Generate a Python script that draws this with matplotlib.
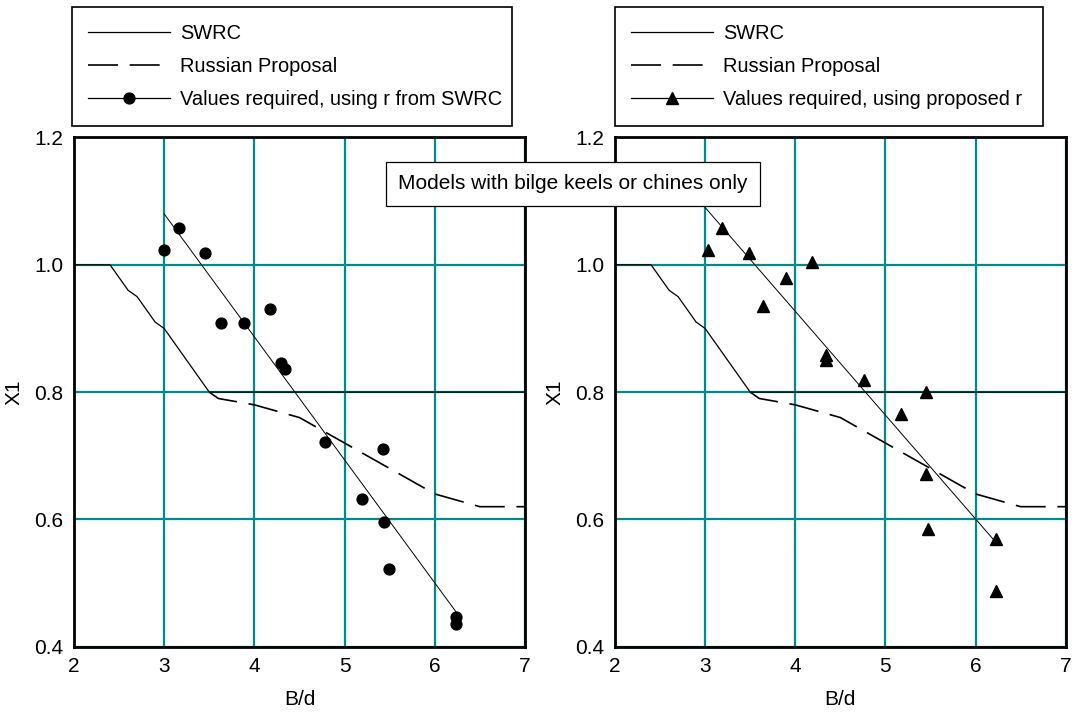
import matplotlib
matplotlib.use("Agg")
import matplotlib.pyplot as plt
from matplotlib.lines import Line2D

plt.rcParams['font.family'] = ['Liberation Sans', 'DejaVu Sans']

# SWRC X1 table
swrc_bd = [2.0, 2.4, 2.5, 2.6, 2.7, 2.8, 2.9, 3.0, 3.1, 3.2, 3.4, 3.5, 7.0]
swrc_x1 = [1.0, 1.0, 0.98, 0.96, 0.95, 0.93, 0.91, 0.90, 0.88, 0.86, 0.82, 0.80, 0.80]

# Russian proposal
rus_bd = [3.5, 3.6, 4.0, 4.5, 5.0, 5.5, 6.0, 6.5, 7.0]
rus_x1 = [0.80, 0.79, 0.78, 0.76, 0.72, 0.68, 0.64, 0.62, 0.62]

# values required, using r from SWRC
left_bd = [3.00, 3.16, 3.45, 3.63, 3.88, 4.17, 4.30, 4.34, 4.78, 5.19, 5.43, 5.44, 5.49, 6.24, 6.24]
left_x1 = [1.024, 1.058, 1.019, 0.909, 0.908, 0.931, 0.846, 0.837, 0.721, 0.632, 0.711, 0.596, 0.522, 0.446, 0.435]
left_fit_bd = [3.0, 6.25]
left_fit_x1 = [1.08, 0.452]

# values required, using proposed r
right_bd = [3.03, 3.19, 3.49, 3.64, 3.90, 4.19, 4.34, 4.34, 4.76, 5.17, 5.45, 5.45, 5.47, 6.23, 6.23]
right_x1 = [1.023, 1.058, 1.019, 0.936, 0.979, 1.005, 0.858, 0.850, 0.819, 0.766, 0.800, 0.671, 0.585, 0.569, 0.488]
right_fit_bd = [3.0, 6.25]
right_fit_x1 = [1.09, 0.56]

teal = '#008b8b'
fs = 15

fig = plt.figure(figsize=(10.72, 7.15), dpi=100)
ax1 = fig.add_axes([0.069, 0.0955, 0.4207, 0.7122])
ax2 = fig.add_axes([0.5737, 0.0955, 0.4204, 0.7122])

panels = [
    (ax1, left_bd, left_x1, left_fit_bd, left_fit_x1, 'o', 7.8, 'Values required, using r from SWRC', 0.0669, 0.411),
    (ax2, right_bd, right_x1, right_fit_bd, right_fit_x1, '^', 8.2, 'Values required, using proposed r', 0.5737, 0.3993),
]

for ax, bd, x1, fbd, fx1, mk, ms, lab, lx, lw_ in panels:
    ax.set_xlim(2, 7)
    ax.set_ylim(0.4, 1.2)
    ax.set_xticks([2, 3, 4, 5, 6, 7])
    ax.set_yticks([0.4, 0.6, 0.8, 1.0, 1.2])
    ax.set_yticklabels(['0.4', '0.6', '0.8', '1.0', '1.2'])
    ax.grid(True, color=teal, lw=1.6)
    ax.set_axisbelow(True)
    ax.tick_params(length=0, labelsize=fs, pad=7.5)
    for s in ax.spines.values():
        s.set_linewidth(2)
        s.set_color('black')
    ax.plot(rus_bd, rus_x1, color='black', lw=1.2, linestyle=(0, (18, 7)))
    ax.plot(swrc_bd, swrc_x1, color='black', lw=0.9)
    ax.plot(fbd, fx1, color='black', lw=0.7)
    ax.plot(bd, x1, linestyle='none', marker=mk, color='black', ms=ms)
    ax.set_xlabel('B/d', fontsize=fs, labelpad=10)
    ax.set_ylabel('X1', fontsize=fs, labelpad=8)

    handles = [
        Line2D([], [], color='black', lw=0.9),
        Line2D([], [], color='black', lw=1.2, linestyle=(0, (18, 7))),
        Line2D([], [], color='black', lw=0.9, marker=mk, ms=ms),
    ]
    leg = ax.legend(handles, ['SWRC', 'Russian Proposal', lab], loc='upper left',
                    bbox_to_anchor=(lx, 0.825, lw_, 0.165), bbox_transform=fig.transFigure,
                    mode='expand', prop={'size': 14.4}, frameon=True, fancybox=False,
                    edgecolor='black', framealpha=1, handlelength=4.1,
                    handletextpad=0.5, labelspacing=0.72, borderpad=0.82,
                    borderaxespad=0, numpoints=1)
    leg.get_frame().set_linewidth(1.2)

fig.text(0.5345, 0.7427, 'Models with bilge keels or chines only', fontsize=fs,
         ha='center', va='center', zorder=10,
         bbox=dict(boxstyle='square,pad=0.6', fc='white', ec='black', lw=0.9))

fig.savefig('out.png', dpi=100)
